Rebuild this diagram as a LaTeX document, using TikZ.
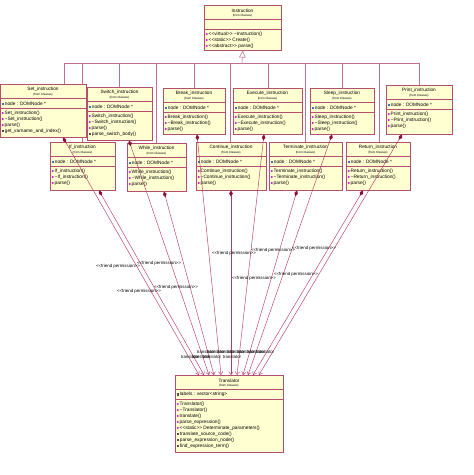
\documentclass[tikz,border=0pt]{standalone}
\usepackage{fontspec}
\setmainfont{Liberation Sans}
\usetikzlibrary{arrows.meta,calc,backgrounds}
\definecolor{boxf}{HTML}{FFFFD2}
\definecolor{boxd}{HTML}{B4506E}
\definecolor{genc}{HTML}{C0708C}
\definecolor{assc}{HTML}{B83A64}
\definecolor{dmc}{HTML}{8C1034}
\definecolor{opc}{HTML}{C020C0}
\definecolor{atc}{HTML}{2E7AB0}
\definecolor{prc}{HTML}{505050}
\newcommand\umlop[1]{\raisebox{0.6pt}{\rotatebox{45}{\textcolor{opc}{\rule{1.5pt}{1.5pt}}}}\hspace{0.9pt}#1}
\newcommand\umlat[1]{\textcolor{atc}{\rule[0.2pt]{2.4pt}{2.2pt}}\hspace{0.8pt}#1}
\newcommand\umlpv[1]{\textcolor{prc}{\rule[0.2pt]{2.4pt}{2.2pt}}\hspace{0.8pt}#1}
\newcommand\lgl{<\kern0pt<}
\newcommand\rgl{>\kern0pt>}
\tikzset{
  clsbox/.style={draw=boxd, fill=boxf, line width=0.5pt, anchor=north west, inner sep=0pt},
  clsline/.style={draw=boxd, line width=0.5pt},
  ttl/.style={font=\fontsize{4.7}{5}\selectfont, inner sep=0pt},
  frm/.style={font=\fontsize{3}{3.5}\selectfont, inner sep=0pt},
  mem/.style={font=\fontsize{4.8}{6}\selectfont, inner sep=0pt},
  gen/.style={draw=genc, line width=0.55pt},
  assoc/.style={draw=assc, line width=0.45pt,
    arrows={Diamond[length=6pt,width=3.6pt,color=dmc]-Straight Barb[length=3pt,width=4.5pt]}},
  lbl/.style={font=\fontsize{4.4}{5}\selectfont, inner sep=0pt}
}
\newcommand\umlclass[8]{%
\begin{scope}[shift={(#2,#3)}]
\node[clsbox, minimum width=#4pt, minimum height=#5pt] (#1) at (0,0) {};
\node[ttl] (#1t) at (#4/2,5.5) {#6};
\node[frm] (#1f) at (#4/2,11) {(from Classes)};
\draw[clsline] (0,14.5) -- (#4,14.5);
\node[mem, anchor=west] (#1a) at (1.5,19.5) {#7};
\draw[clsline] (0,24.5) -- (#4,24.5);
\node[mem, anchor=north west, align=left] (#1o) at (1.5,27) {#8};
\end{scope}}
\begin{document}
\begin{tikzpicture}[x=1pt,y=-1pt]
\useasboundingbox (0,0) rectangle (474,475);
\coordinate (hub) at (242,63);

\umlclass{instr}{204}{5}{77}{45}{Instruction}{}{\umlop{\lgl virtual\rgl\ \textasciitilde Instruction()}\\\umlop{\lgl static\rgl\ Create()}\\\umlop{\lgl abstract\rgl\ parse()}}

\umlclass{set}{0}{84}{86}{53}{Set\_instruction}{\umlat{node : DOMNode *}}{\umlop{Set\_instruction()}\\\umlop{\textasciitilde Set\_instruction()}\\\umlop{parse()}\\\umlpv{get\_varname\_and\_index()}}
\umlclass{switch}{87}{87}{65}{53}{Switch\_instruction}{\umlat{node : DOMNode *}}{\umlop{Switch\_instruction()}\\\umlop{\textasciitilde Switch\_instruction()}\\\umlop{parse()}\\\umlpv{parse\_switch\_body()}}
\umlclass{break}{163}{88}{62}{46}{Break\_instruction}{\umlat{node : DOMNode *}}{\umlop{Break\_instruction()}\\\umlop{\textasciitilde Break\_instruction()}\\\umlop{parse()}}
\umlclass{exec}{233}{88}{69}{46}{Execute\_instruction}{\umlat{node : DOMNode *}}{\umlop{Execute\_instruction()}\\\umlop{\textasciitilde Execute\_instruction()}\\\umlop{parse()}}
\umlclass{sleep}{310}{88}{64}{46}{Sleep\_instruction}{\umlat{node : DOMNode *}}{\umlop{Sleep\_instruction()}\\\umlop{\textasciitilde Sleep\_instruction()}\\\umlop{parse()}}
\umlclass{print}{386}{85}{66}{49}{Print\_instruction}{\umlat{node : DOMNode *}}{\umlop{Print\_instruction()}\\\umlop{\textasciitilde Print\_instruction()}\\\umlop{parse()}}

\umlclass{if}{50}{142}{65}{48}{If\_instruction}{\umlat{node : DOMNode *}}{\umlop{If\_instruction()}\\\umlop{\textasciitilde If\_instruction()}\\\umlop{parse()}}
\umlclass{while}{127}{143}{59}{48}{While\_instruction}{\umlat{node : DOMNode *}}{\umlop{While\_instruction()}\\\umlop{\textasciitilde While\_instruction()}\\\umlop{parse()}}
\umlclass{cont}{196}{142}{70}{48}{Continue\_instruction}{\umlat{node : DOMNode *}}{\umlop{Continue\_instruction()}\\\umlop{\textasciitilde Continue\_instruction()}\\\umlop{parse()}}
\umlclass{term}{269}{142}{73}{48}{Terminate\_instruction}{\umlat{node : DOMNode *}}{\umlop{Terminate\_instruction()}\\\umlop{\textasciitilde Terminate\_instruction()}\\\umlop{parse()}}
\umlclass{ret}{346}{142}{64}{48}{Return\_instruction}{\umlat{node : DOMNode *}}{\umlop{Return\_instruction()}\\\umlop{\textasciitilde Return\_instruction()}\\\umlop{parse()}}

\umlclass{tr}{175}{375}{108}{77}{Translator}{\umlpv{labels : vector<string>}}{\umlop{Translator()}\\\umlop{\textasciitilde Translator()}\\\umlop{translate()}\\\umlop{parse\_expression()}\\\umlop{\lgl static\rgl\ Determinate\_parameters()}\\\umlpv{translate\_source\_code()}\\\umlpv{parse\_expression\_node()}\\\umlpv{find\_expression\_term()}}

\begin{scope}[on background layer]
\draw[gen, -{Triangle[open, length=7pt, width=6.5pt, fill=white]}] (hub) -- (instr.south);
\draw[gen] ($(set.north west)+(64,0)$) |- (hub);
\draw[gen] ($(if.north west)+(32,0)$) |- (hub);
\draw[gen] ($(switch.north west)+(32,0)$) |- (hub);
\draw[gen] ($(while.north west)+(29,0)$) |- (hub);
\draw[gen] ($(break.north west)+(31,0)$) |- (hub);
\draw[gen] ($(cont.north west)+(34,0)$) |- (hub);
\draw[gen] ($(exec.north west)+(35,0)$) |- (hub);
\draw[gen] ($(term.north west)+(36,0)$) |- (hub);
\draw[gen] ($(sleep.north west)+(32,0)$) |- (hub);
\draw[gen] ($(ret.north west)+(33,0)$) |- (hub);
\draw[gen] ($(print.north west)+(33,0)$) |- (hub);
\end{scope}

\draw[assoc] ($(set.south west)+(63,0)$) -- ($(tr.north west)+(24,0)$);
\draw[assoc] ($(if.south west)+(49,0)$) -- ($(tr.north west)+(29,0)$);
\draw[assoc] ($(switch.south west)+(42,0)$) -- ($(tr.north west)+(34,0)$);
\draw[assoc] ($(while.south west)+(37,0)$) -- ($(tr.north west)+(39,0)$);
\draw[assoc] ($(break.south west)+(34,0)$) -- ($(tr.north west)+(46,0)$);
\draw[assoc] ($(cont.south west)+(35,0)$) -- ($(tr.north west)+(56,0)$);
\draw[assoc] ($(exec.south west)+(31,0)$) -- ($(tr.north west)+(62,0)$);
\draw[assoc] ($(term.south west)+(28,0)$) -- ($(tr.north west)+(68,0)$);
\draw[assoc] ($(sleep.south west)+(22,0)$) -- ($(tr.north west)+(73,0)$);
\draw[assoc] ($(ret.south west)+(17,0)$) -- ($(tr.north west)+(78,0)$);
\draw[assoc] ($(print.south west)+(16,0)$) -- ($(tr.north west)+(84,0)$);

\node[lbl] (fp1) at (118,266) {\lgl friend permission\rgl};
\node[lbl] (fp2) at (159,263) {\lgl friend permission\rgl};
\node[lbl] (fp3) at (234,253) {\lgl friend permission\rgl};
\node[lbl] (fp4) at (176,287) {\lgl friend permission\rgl};
\node[lbl] (fp5) at (139,291) {\lgl friend permission\rgl};
\node[lbl] (fp6) at (254,278) {\lgl friend permission\rgl};
\node[lbl] (fp7) at (273,250) {\lgl friend permission\rgl};
\node[lbl] (fp8) at (314,248) {\lgl friend permission\rgl};
\node[lbl] (fp9) at (296,274) {\lgl friend permission\rgl};

\node[lbl] (tl1) at (190,357) {translator};
\node[lbl] (tl2) at (201,357) {translator};
\node[lbl] (tl3) at (212,357) {translator};
\node[lbl] (tl4) at (232,357) {translator};
\node[lbl] (tl5) at (206,352) {translator};
\node[lbl] (tl6) at (216,352) {translator};
\node[lbl] (tl7) at (226,352) {translator};
\node[lbl] (tl8) at (236,352) {translator};
\node[lbl] (tl9) at (246,352) {translator};
\node[lbl] (tl10) at (256,352) {translator};
\node[lbl] (tl11) at (265,352) {translator};
\end{tikzpicture}
\end{document}
